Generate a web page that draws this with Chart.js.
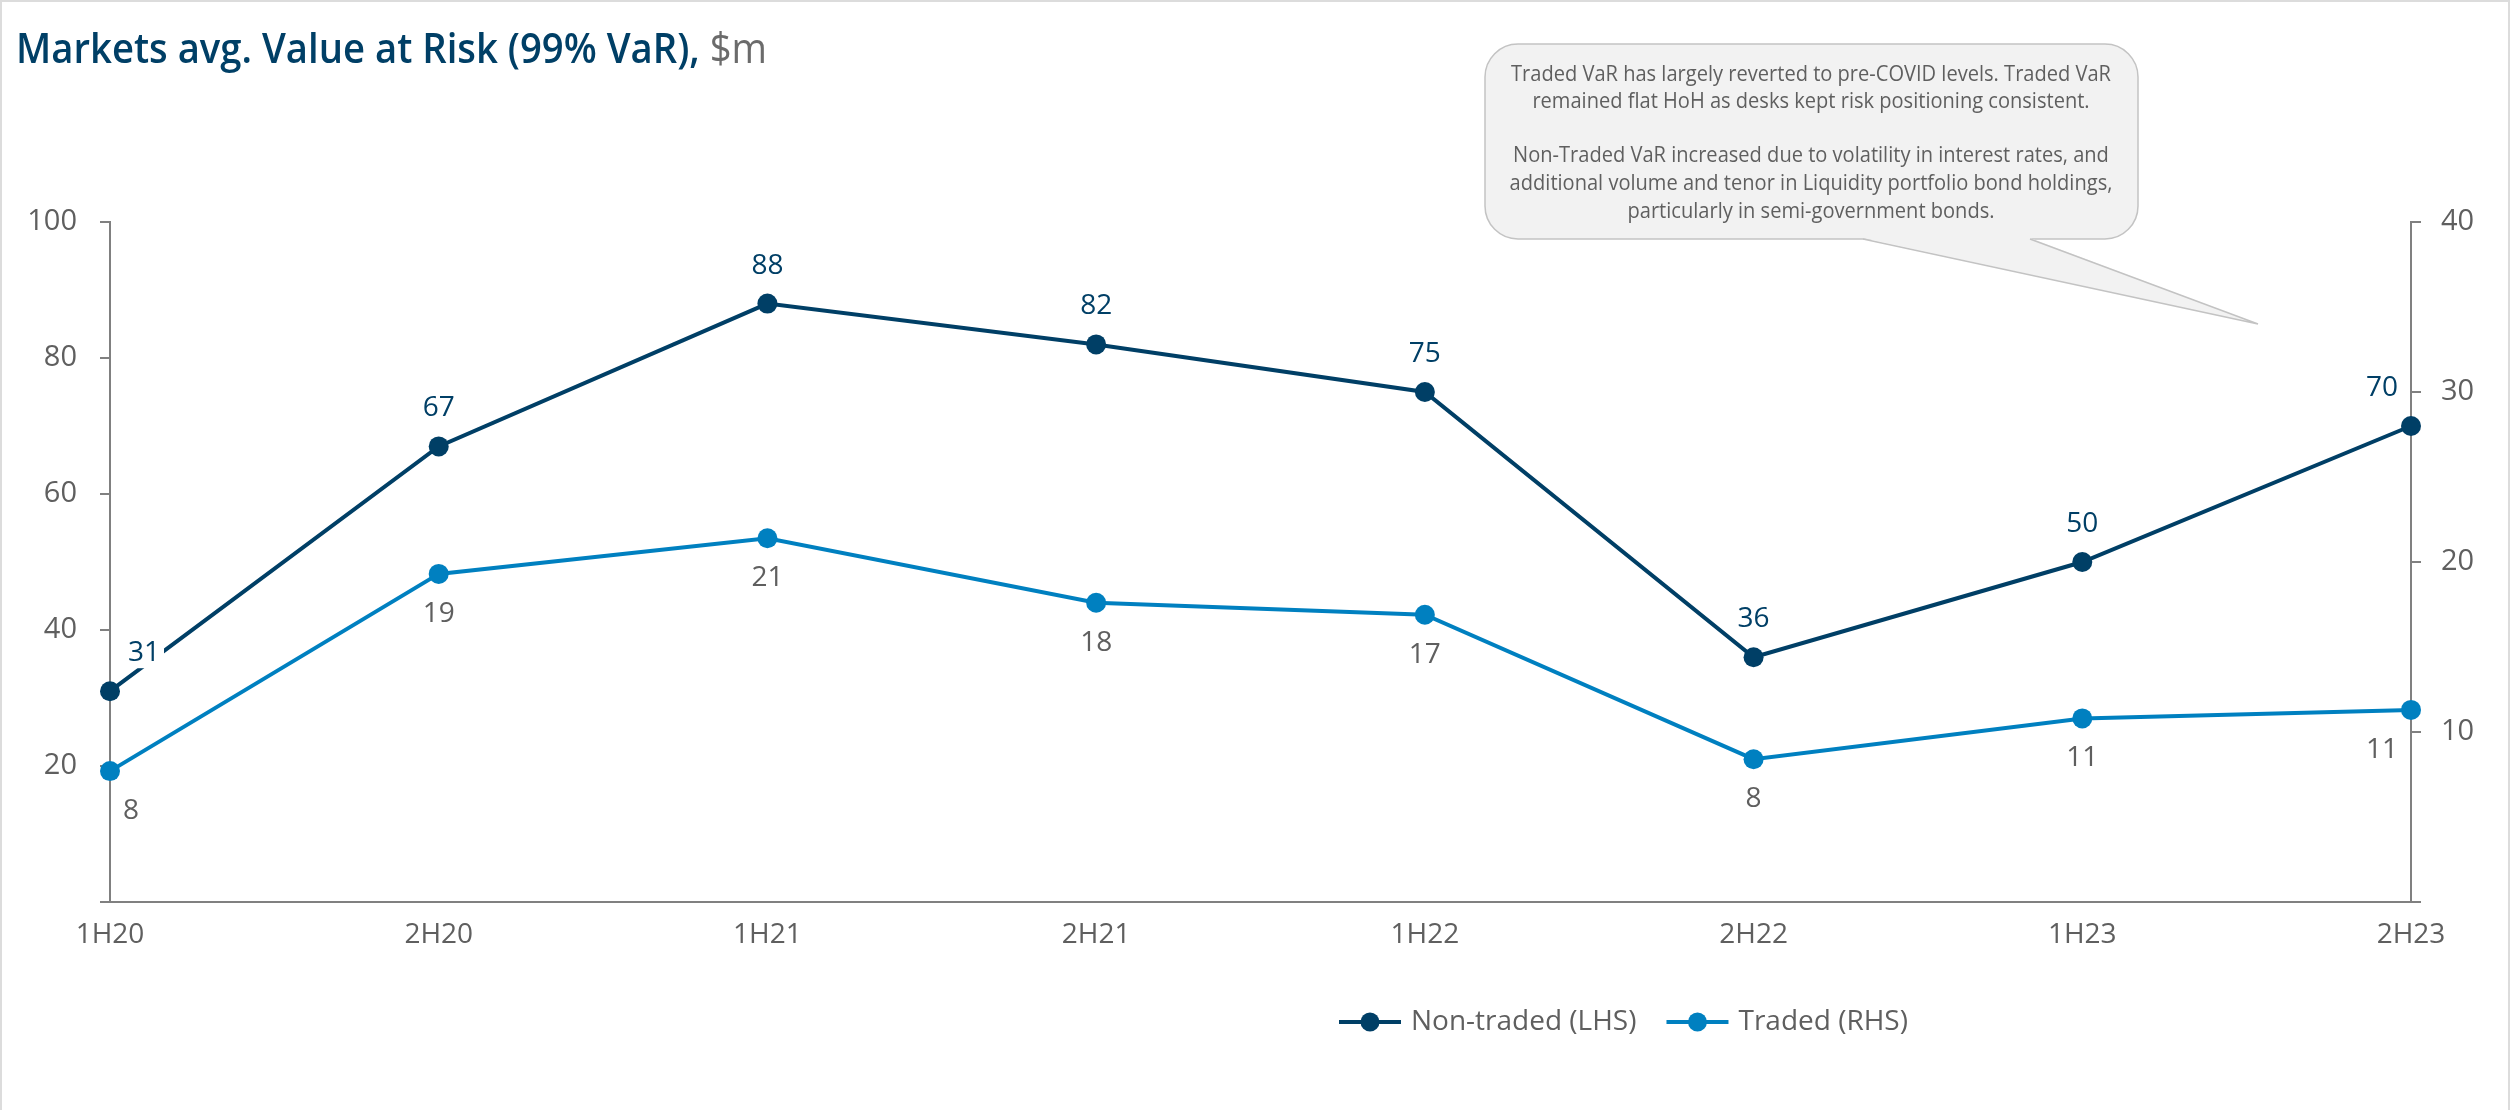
<!DOCTYPE html>
<html>
<head>
<meta charset="utf-8">
<script src="https://cdn.jsdelivr.net/npm/chart.js@4.4.1/dist/chart.umd.min.js"></script>
<style>
  html, body { margin: 0; padding: 0; background: #fff; }
  #wrap { width: 2512px; height: 1110px; position: relative; }
</style>
</head>
<body>
<div id="wrap"><canvas id="myChart"></canvas></div>
<script>
// data
var periods = ["1H20", "2H20", "1H21", "2H21", "1H22", "2H22", "1H23", "2H23"];
var nonTraded = [31, 67, 88, 82, 75, 36, 50, 70];          // LHS
var traded = [7.7, 19.3, 21.4, 17.6, 16.9, 8.4, 10.8, 11.3]; // RHS
var lhsTicks = [0, 20, 40, 60, 80, 100];
var rhsTicks = [0, 10, 20, 30, 40];

var seriesNames = ["Non-traded (LHS)", "Traded (RHS)"];
var calloutLines = [
    "Traded VaR has largely reverted to pre-COVID levels. Traded VaR",
    "remained flat HoH as desks kept risk positioning consistent.",
    "",
    "Non-Traded VaR increased due to volatility in interest rates, and",
    "additional volume and tenor in Liquidity portfolio bond holdings,",
    "particularly in semi-government bonds."
];

var NAVY = '#003f66';
var BLUE = '#0080c0';
var GREY = '#5f5f5f';
var AXIS = '#808080';
var FONT = "'Open Sans', 'Noto Sans', sans-serif";

function roundRect(ctx, x, y, w, h, r) {
    ctx.beginPath();
    ctx.moveTo(x + r, y);
    ctx.lineTo(x + w - r, y);
    ctx.arcTo(x + w, y, x + w, y + r, r);
    ctx.lineTo(x + w, y + h - r);
    ctx.arcTo(x + w, y + h, x + w - r, y + h, r);
    ctx.lineTo(x + r, y + h);
    ctx.arcTo(x, y + h, x, y + h - r, r);
    ctx.lineTo(x, y + r);
    ctx.arcTo(x, y, x + r, y, r);
    ctx.closePath();
}

// value labels next to the points
var pointLabels = {
    id: 'pointLabels',
    afterDatasetsDraw: function(chart) {
        var ctx = chart.ctx;
        ctx.save();
        ctx.font = '28px ' + FONT;
        ctx.textAlign = 'center';
        ctx.textBaseline = 'middle';
        chart.data.datasets.forEach(function(ds, di) {
            var meta = chart.getDatasetMeta(di);
            var above = di === 0;
            meta.data.forEach(function(pt, i) {
                var txt = String(Math.round(ds.data[i]));
                var x = pt.x, y = pt.y + (above ? -38 : 40);
                if (i === 0) x += above ? 34 : 21;
                if (i === meta.data.length - 1) x -= 29;
                var w = ctx.measureText(txt).width;
                ctx.fillStyle = '#fff';
                ctx.fillRect(x - w / 2 - 4, y - 15, w + 8, 30);
                ctx.fillStyle = above ? NAVY : GREY;
                ctx.fillText(txt, x, y);
            });
        });
        ctx.restore();
    }
};

// title, callout, legend, frame
var decorations = {
    id: 'decorations',
    afterDraw: function(chart) {
        var ctx = chart.ctx;
        ctx.save();

        // frame
        ctx.strokeStyle = '#dcdcdc';
        ctx.lineWidth = 2;
        ctx.strokeRect(1, 1, 2508, 1200);

        // title
        var boldPart = 'Markets avg. Value at Risk (99% VaR), ';
        ctx.font = '600 42px ' + FONT;
        var w1 = ctx.measureText(boldPart).width;
        ctx.font = '42px ' + FONT;
        var w2 = ctx.measureText('$m').width;
        var sx = 751 / (w1 + w2);
        ctx.save();
        ctx.translate(16, 63);
        ctx.scale(sx, 1);
        ctx.textBaseline = 'alphabetic';
        ctx.font = '600 42px ' + FONT;
        ctx.fillStyle = NAVY;
        ctx.fillText(boldPart, 0, 0);
        ctx.font = '42px ' + FONT;
        ctx.fillStyle = '#6b6b6b';
        ctx.fillText('$m', w1, 0);
        ctx.restore();

        // callout bubble
        var bx = 1485, by = 44, bw = 653, bh = 195, r = 33;
        roundRect(ctx, bx, by, bw, bh, r);
        ctx.fillStyle = '#f2f2f2';
        ctx.fill();
        ctx.strokeStyle = '#c3c3c3';
        ctx.lineWidth = 1.5;
        ctx.stroke();
        ctx.beginPath();
        ctx.moveTo(1863, by + bh - 1);
        ctx.lineTo(2258, 324);
        ctx.lineTo(2030, by + bh - 1);
        ctx.closePath();
        ctx.fill();
        ctx.beginPath();
        ctx.moveTo(1863, by + bh);
        ctx.lineTo(2258, 324);
        ctx.lineTo(2030, by + bh);
        ctx.stroke();

        ctx.font = '22px ' + FONT;
        var csx = 600 / ctx.measureText(calloutLines[0]).width;
        ctx.fillStyle = GREY;
        ctx.textAlign = 'center';
        ctx.textBaseline = 'middle';
        var lineY = [75, 102, 129, 156, 184, 212];
        calloutLines.forEach(function(line, i) {
            if (!line) return;
            ctx.save();
            ctx.translate(1811, lineY[i]);
            ctx.scale(csx, 1);
            ctx.fillText(line, 0, 0);
            ctx.restore();
        });

        // legend
        var colors = [NAVY, BLUE];
        var lx = 1339, ly = 1022;
        ctx.font = '28px ' + FONT;
        ctx.textAlign = 'left';
        seriesNames.forEach(function(name, i) {
            ctx.strokeStyle = colors[i];
            ctx.lineWidth = 4;
            ctx.beginPath();
            ctx.moveTo(lx, ly);
            ctx.lineTo(lx + 62, ly);
            ctx.stroke();
            ctx.fillStyle = colors[i];
            ctx.beginPath();
            ctx.arc(lx + 31, ly, 9.5, 0, Math.PI * 2);
            ctx.fill();
            ctx.fillStyle = GREY;
            ctx.fillText(name, lx + 72, ly);
            lx += 72 + ctx.measureText(name).width + 30;
        });

        ctx.restore();
    }
};

var ctx = document.getElementById('myChart').getContext('2d');
var chart = new Chart(ctx, {
    type: 'line',
    data: {
        labels: periods,
        datasets: [{
            label: seriesNames[0],
            data: nonTraded,
            yAxisID: 'y',
            borderColor: NAVY,
            backgroundColor: NAVY,
            borderWidth: 4,
            pointRadius: 10,
            pointBorderWidth: 0,
            tension: 0
        }, {
            label: seriesNames[1],
            data: traded,
            yAxisID: 'y1',
            borderColor: BLUE,
            backgroundColor: BLUE,
            borderWidth: 4,
            pointRadius: 10,
            pointBorderWidth: 0,
            tension: 0
        }]
    },
    options: {
        responsive: true,
        maintainAspectRatio: false,
        animation: false,
        layout: { padding: { top: 222, left: 0, right: 0, bottom: 0 } },
        plugins: {
            legend: { display: false },
            title: { display: false },
            tooltip: { enabled: false }
        },
        scales: {
            x: {
                afterFit: function(s) { s.height = 208; },
                grid: { display: false, drawTicks: false },
                border: { display: true, color: AXIS, width: 2 },
                ticks: { color: GREY, font: { family: FONT, size: 28 }, padding: 16, maxRotation: 0, autoSkip: false }
            },
            y: {
                position: 'left',
                min: 0, max: 100,
                afterFit: function(s) { s.width = 110; },
                afterBuildTicks: function(s) { s.ticks = lhsTicks.map(function(v) { return { value: v }; }); },
                grid: { drawOnChartArea: false, tickLength: 10, color: AXIS, lineWidth: 2 },
                border: { color: AXIS, width: 2 },
                ticks: {
                    color: GREY, font: { family: FONT, size: 29 }, padding: 23,
                    callback: function(v) { return v === 0 ? '' : v; }
                }
            },
            y1: {
                position: 'right',
                min: 0, max: 40,
                afterFit: function(s) { s.width = 101; },
                afterBuildTicks: function(s) { s.ticks = rhsTicks.map(function(v) { return { value: v }; }); },
                grid: { drawOnChartArea: false, tickLength: 10, color: AXIS, lineWidth: 2 },
                border: { color: AXIS, width: 2 },
                ticks: {
                    color: GREY, font: { family: FONT, size: 29 }, padding: 20,
                    callback: function(v) { return v === 0 ? '' : v; }
                }
            }
        }
    },
    plugins: [pointLabels, decorations]
});
</script>
</body>
</html>
